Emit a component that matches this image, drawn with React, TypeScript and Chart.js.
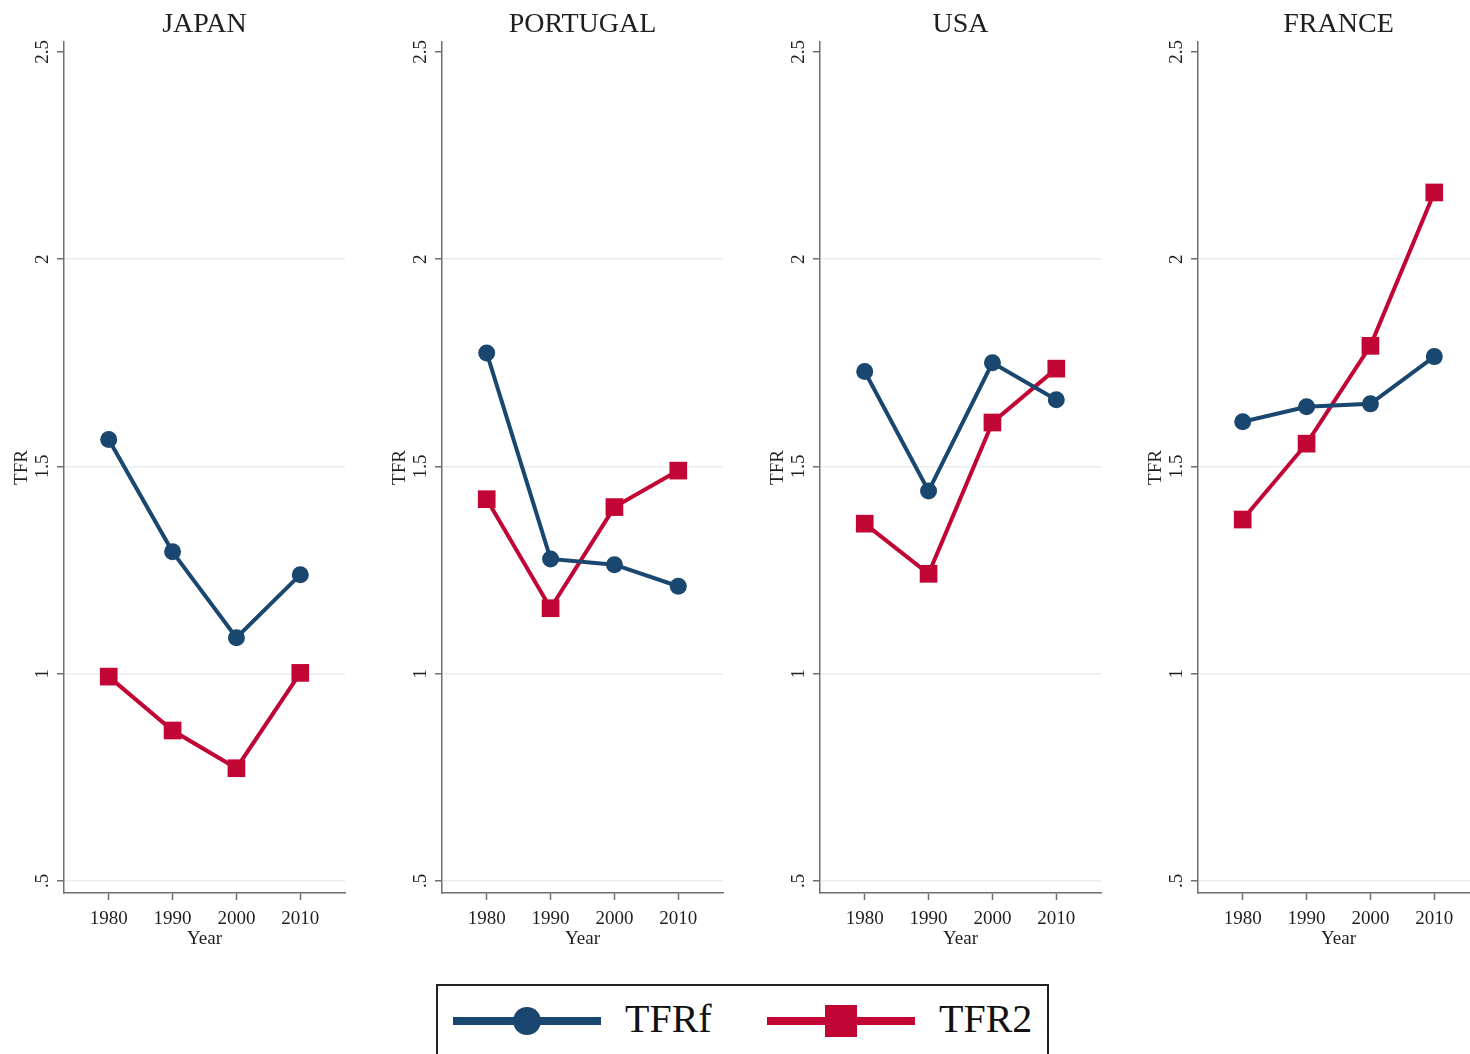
import React, { useEffect, useRef } from 'react';
import { Chart, registerables } from 'chart.js';

Chart.register(...registerables);

const YEARS = [1980, 1990, 2000, 2010];
const COUNTRIES = ['JAPAN', 'PORTUGAL', 'USA', 'FRANCE'];
const JAPAN_TFRF = [1.565, 1.294, 1.087, 1.239];
const JAPAN_TFR2 = [0.993, 0.863, 0.772, 1.002];
const PORTUGAL_TFRF = [1.774, 1.277, 1.263, 1.211];
const PORTUGAL_TFR2 = [1.421, 1.158, 1.402, 1.49];
const USA_TFRF = [1.729, 1.441, 1.75, 1.661];
const USA_TFR2 = [1.362, 1.241, 1.606, 1.736];
const FRANCE_TFRF = [1.608, 1.644, 1.651, 1.765];
const FRANCE_TFR2 = [1.372, 1.555, 1.791, 2.161];
const Y_TICKS = [0.5, 1, 1.5, 2, 2.5];
const Y_TICK_LABELS = ['.5', '1', '1.5', '2', '2.5'];
const SERIES_NAMES = ['TFRf', 'TFR2'];

const TFRF_BY_COUNTRY = [JAPAN_TFRF, PORTUGAL_TFRF, USA_TFRF, FRANCE_TFRF];
const TFR2_BY_COUNTRY = [JAPAN_TFR2, PORTUGAL_TFR2, USA_TFR2, FRANCE_TFR2];

const NAVY = '#1a476f';
const RED = '#c10534';
const AXIS = '#6f6f6f';
const GRID = '#e6eef0';
const TEXT = '#1f1f1f';
const FONT = "'Liberation Serif', 'Times New Roman', serif";

const PANEL_W = 378;
const PANEL_H = 960;

function Panel({ title, tfrf, tfr2, left }: { title: string; tfrf: number[]; tfr2: number[]; left: number }) {
  const ref = useRef<HTMLCanvasElement | null>(null);
  useEffect(() => {
    if (!ref.current) return;
    const chart = new Chart(ref.current, {
      type: 'line',
      data: {
        datasets: [
          {
            label: SERIES_NAMES[0],
            data: YEARS.map((x, i) => ({ x, y: tfrf[i] })),
            borderColor: NAVY,
            backgroundColor: NAVY,
            borderWidth: 4,
            pointStyle: 'circle',
            pointRadius: 8.5,
            pointBorderWidth: 0,
            tension: 0,
          },
          {
            label: SERIES_NAMES[1],
            data: YEARS.map((x, i) => ({ x, y: tfr2[i] })),
            borderColor: RED,
            backgroundColor: RED,
            borderWidth: 4,
            pointStyle: 'rect',
            pointRadius: 12.5,
            pointBorderWidth: 0,
            tension: 0,
          },
        ],
      },
      options: {
        responsive: false,
        animation: false,
        layout: { padding: { left: 0, right: 33, top: 0, bottom: 0 } },
        plugins: {
          legend: { display: false },
          tooltip: { enabled: false },
          title: {
            display: true,
            text: title,
            fullSize: false,
            color: TEXT,
            font: { family: FONT, size: 28, weight: 'normal' },
            padding: { top: 7.6, bottom: 0.8 },
          },
        },
        scales: {
          x: {
            type: 'linear',
            min: 1973,
            max: 2017,
            afterBuildTicks: (scale: any) => {
              scale.ticks = YEARS.map((v) => ({ value: v }));
            },
            afterFit: (scale: any) => {
              scale.height = 67;
            },
            ticks: {
              color: TEXT,
              font: { family: FONT, size: 19 },
              padding: 8,
              maxRotation: 0,
              callback: (v: any) => String(v),
            },
            grid: {
              drawOnChartArea: false,
              drawTicks: true,
              tickLength: 7,
              tickColor: AXIS,
              tickWidth: 1.5,
            },
            border: { display: true, color: AXIS, width: 1.5 },
            title: {
              display: true,
              text: 'Year',
              color: TEXT,
              font: { family: FONT, size: 19 },
              padding: { top: 0, bottom: 10 },
            },
          },
          y: {
            type: 'linear',
            min: 0.471,
            max: 2.524,
            afterBuildTicks: (scale: any) => {
              scale.ticks = Y_TICKS.map((v) => ({ value: v }));
            },
            afterFit: (scale: any) => {
              scale.width = 64;
            },
            ticks: {
              color: TEXT,
              font: { family: FONT, size: 19 },
              padding: 2,
              minRotation: 90,
              maxRotation: 90,
              crossAlign: 'center',
              callback: (v: any) => {
                const i = Y_TICKS.indexOf(Number(v));
                return i >= 0 ? Y_TICK_LABELS[i] : '';
              },
            },
            grid: {
              drawOnChartArea: true,
              drawTicks: true,
              tickLength: 7,
              tickColor: AXIS,
              tickWidth: 1.5,
              lineWidth: 1.5,
              color: (ctx: any) => (ctx.tick && ctx.tick.value === 2.5 ? 'rgba(0,0,0,0)' : GRID),
            },
            border: { display: true, color: AXIS, width: 1.5 },
            title: {
              display: true,
              text: 'TFR',
              color: TEXT,
              font: { family: FONT, size: 19 },
              padding: { top: 11, bottom: 0 },
            },
          },
        },
      } as any,
    });
    return () => chart.destroy();
  }, [title, tfrf, tfr2]);
  return (
    <canvas
      ref={ref}
      width={PANEL_W}
      height={PANEL_H}
      style={{ position: 'absolute', left, top: 0, width: PANEL_W, height: PANEL_H }}
    />
  );
}

function LegendSymbol({ color, shape }: { color: string; shape: 'circle' | 'square' }) {
  return (
    <svg width={148} height={40} style={{ position: 'absolute', top: 0, left: 0 }}>
      <line x1={0} y1={20} x2={148} y2={20} stroke={color} strokeWidth={8} />
      {shape === 'circle' ? (
        <circle cx={74} cy={20} r={14} fill={color} />
      ) : (
        <rect x={58} y={4} width={32} height={32} fill={color} />
      )}
    </svg>
  );
}

export default function App() {
  useEffect(() => {
    document.body.style.margin = '0';
    document.body.style.overflow = 'hidden';
  }, []);
  return (
    <div
      style={{
        position: 'fixed',
        left: 0,
        top: 0,
        width: 1470,
        height: 1054,
        overflow: 'hidden',
        background: '#ffffff',
      }}
    >
      {COUNTRIES.map((c, i) => (
        <Panel key={c} title={c} tfrf={TFRF_BY_COUNTRY[i]} tfr2={TFR2_BY_COUNTRY[i]} left={PANEL_W * i} />
      ))}
      <div
        style={{
          position: 'absolute',
          left: 436,
          top: 984,
          width: 609,
          height: 100,
          border: '2px solid #222',
          background: '#fff',
        }}
      >
        <div style={{ position: 'absolute', left: 15, top: 15, width: 148, height: 40 }}>
          <LegendSymbol color={NAVY} shape="circle" />
        </div>
        <div
          style={{
            position: 'absolute',
            left: 187,
            top: 9,
            fontFamily: FONT,
            fontSize: 40,
            lineHeight: '48px',
            color: '#111',
          }}
        >
          {SERIES_NAMES[0]}
        </div>
        <div style={{ position: 'absolute', left: 329, top: 15, width: 148, height: 40 }}>
          <LegendSymbol color={RED} shape="square" />
        </div>
        <div
          style={{
            position: 'absolute',
            left: 501,
            top: 9,
            fontFamily: FONT,
            fontSize: 40,
            lineHeight: '48px',
            color: '#111',
          }}
        >
          {SERIES_NAMES[1]}
        </div>
      </div>
    </div>
  );
}
